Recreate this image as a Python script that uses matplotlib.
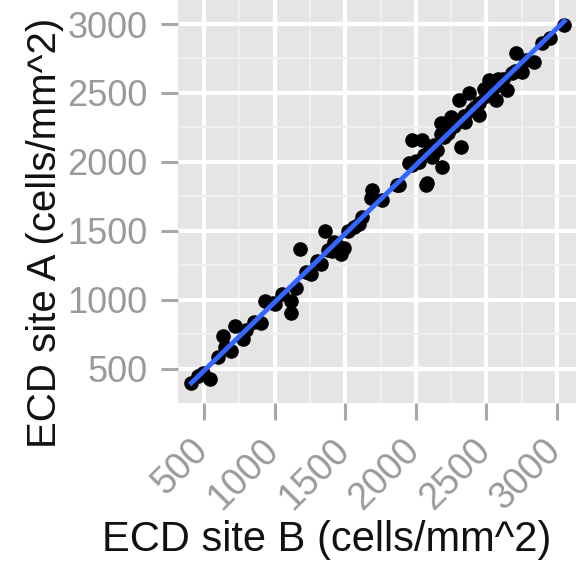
import numpy as np
import matplotlib
matplotlib.use("Agg")
import matplotlib.pyplot as plt
from matplotlib.transforms import ScaledTranslation

# ECD values (site B on x, site A on y)
site_b = [410, 457, 543, 493, 635, 720, 692, 777, 905, 934, 991, 1119, 1119, 1154,
          1254, 1325, 1182, 1360, 1467, 1488, 1403, 1595, 1687, 1680, 1758, 1865,
          2071, 1972, 2185, 2114, 2078, 1880, 1950, 1972, 2043, 2150, 2320, 2178,
          2249, 2306, 2448, 2377, 2519, 2569, 2647, 2683, 2711, 2754, 2839, 2896,
          3052,
          1050, 1220, 1300, 1420, 1520, 1560, 1620, 2000, 2060, 2100, 2130, 2200,
          2230, 2270, 2340, 2400, 2450, 2500, 2540, 2600, 2620, 2700, 2780, 2950,
          2420, 2350, 2180, 2260, 2580, 2480, 600, 650, 800, 850, 1000, 1380, 1440,
          2020]
site_a = [400, 449, 427, 471, 740, 813, 631, 718, 834, 994, 980, 907, 994, 1089,
          1190, 1263, 1372, 1503, 1336, 1380, 1358, 1554, 1794, 1736, 1721, 1830,
          1830, 1976, 1961, 2034, 1845, 1830, 1990, 2158, 2158, 2085, 2107, 2281,
          2325, 2448, 2339, 2499, 2594, 2448, 2521, 2645, 2790, 2652, 2725, 2863,
          2994,
          1040, 1200, 1280, 1420, 1500, 1530, 1600, 2010, 2050, 2090, 2120, 2180,
          2210, 2260, 2330, 2380, 2430, 2480, 2520, 2560, 2600, 2660, 2740, 2900,
          2400, 2290, 2200, 2300, 2600, 2530, 590, 660, 780, 840, 970, 1360, 1400,
          2000]

ticks = [500, 1000, 1500, 2000, 2500, 3000]

x = np.array(site_b)
y = np.array(site_a)

fig = plt.figure(figsize=(5.76, 5.69), dpi=100)
ax = fig.add_axes([178 / 576, 1 - 403 / 569, 1 - 178 / 576, 403 / 569])
ax.set_facecolor("#E5E5E5")

ax.set_xticks(ticks)
ax.set_yticks(ticks)
ax.set_xticks([750, 1250, 1750, 2250, 2750], minor=True)
ax.set_yticks([750, 1250, 1750, 2250, 2750], minor=True)
ax.grid(which="major", color="white", linewidth=3)
ax.grid(which="minor", color="#EFEFEF", linewidth=1.5)
ax.set_axisbelow(True)

ax.scatter(x, y, s=90, color="black", zorder=3)

# linear fit, like geom_smooth(method = "lm")
coef = np.polyfit(x, y, 1)
xs = np.array([x.min(), x.max()])
ax.plot(xs, np.polyval(coef, xs), color="#3366FF", linewidth=3.5, zorder=4)

ax.set_xlim(315, 3135)
ax.set_ylim(253, 3174)

for s in ax.spines.values():
    s.set_visible(False)

ax.tick_params(axis="both", which="major", length=12, width=2.2, color="#A8A8A8",
               labelcolor="#9A9A9A")
ax.tick_params(axis="y", labelsize=26, pad=10)
ax.tick_params(axis="x", labelsize=27, pad=18)
ax.tick_params(which="minor", length=0)
shift = ScaledTranslation(-1 / 72, 0, fig.dpi_scale_trans)
for lab in ax.get_xticklabels():
    lab.set_fontfamily("Liberation Sans")
    lab.set_rotation(45)
    lab.set_ha("right")
    lab.set_va("center")
    lab.set_rotation_mode("anchor")
    lab.set_transform(lab.get_transform() + shift)
for lab in ax.get_yticklabels():
    lab.set_fontfamily("Liberation Sans")

fig.text(327 / 576, 1 - 540 / 569, "ECD site B (cells/mm^2)", ha="center",
         va="center", fontsize=30, family="Liberation Sans", color="#111111")
fig.text(45 / 576, 1 - 233 / 569, "ECD site A (cells/mm^2)", ha="center",
         va="center", rotation=90, fontsize=29, family="Liberation Sans",
         color="#111111")

fig.savefig("out.png", dpi=100)
